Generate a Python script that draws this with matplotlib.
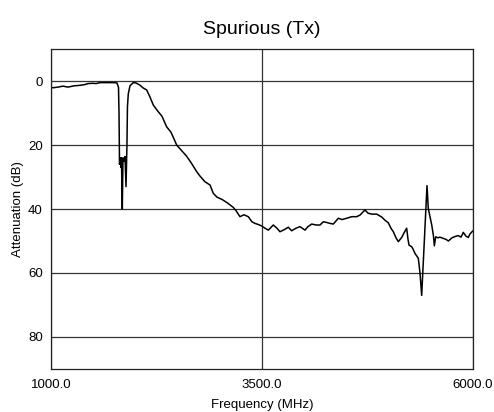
import matplotlib
matplotlib.use('Agg')
import matplotlib.pyplot as plt

plt.rcParams['font.family'] = ['Liberation Sans', 'DejaVu Sans']

# Tx spurious response: frequency (MHz) vs attenuation (dB)
freq_mhz = [
    1000, 1024, 1083, 1142, 1201, 1273, 1344, 1403, 1438, 1498, 1533, 1581,
    1675, 1746, 1782, 1800, 1806, 1812, 1823, 1829, 1835, 1845, 1853, 1865,
    1877, 1889, 1900, 1906, 1916, 1936, 1975, 2007, 2054, 2094, 2134, 2173,
    2212, 2268, 2315, 2370, 2422, 2489, 2540, 2607, 2659, 2726, 2765, 2825,
    2884, 2923, 2967, 3026, 3085, 3160, 3192, 3239, 3286, 3338, 3381, 3417,
    3452, 3496, 3535, 3575, 3634, 3677, 3713, 3760, 3812, 3851, 3903, 3950,
    4009, 4045, 4089, 4140, 4187, 4226, 4266, 4306, 4345, 4404, 4448, 4503,
    4563, 4622, 4661, 4720, 4756, 4800, 4859, 4918, 4957, 4996, 5028, 5056,
    5088, 5115, 5155, 5182, 5214, 5230, 5242, 5274, 5289, 5313, 5352, 5372,
    5392, 5423, 5455, 5470, 5511, 5532, 5542, 5558, 5585, 5609, 5648, 5680,
    5708, 5751, 5787, 5826, 5858, 5885, 5917, 5944, 5964, 5996,
]
atten_db = [
    2.0, 2.1, 1.9, 1.6, 1.9, 1.5, 1.35, 1.1, 0.8, 0.7, 0.8, 0.5,
    0.5, 0.5, 0.6, 2.0, 10.0, 26.0, 24.0, 27.0, 24.0, 40.0, 24.0, 25.0,
    23.6, 33.0, 20.0, 8.0, 4.0, 1.5, 0.5, 0.6, 1.3, 2.2, 2.8, 5.0,
    7.5, 9.5, 11.0, 14.3, 16.0, 20.0, 21.5, 23.5, 25.5, 28.3, 29.7, 31.5,
    32.5, 35.1, 36.3, 37.0, 38.0, 39.5, 40.5, 42.4, 41.8, 42.4, 44.0, 44.5,
    44.8, 45.3, 46.0, 46.6, 45.0, 46.0, 47.1, 46.5, 45.7, 46.8, 46.0, 45.5,
    46.6, 45.5, 44.7, 45.0, 45.0, 44.0, 44.2, 44.5, 44.7, 42.9, 43.3, 42.9,
    42.4, 42.4, 41.9, 40.3, 41.3, 41.6, 41.6, 42.5, 43.5, 44.3, 46.0, 47.1,
    49.0, 50.2, 48.9, 47.5, 46.0, 49.5, 51.3, 51.8, 52.5, 53.9, 55.4, 60.0,
    67.0, 50.2, 32.7, 39.8, 45.0, 48.5, 51.5, 48.7, 49.0, 48.8, 49.2, 49.5,
    50.0, 49.0, 48.6, 48.3, 48.8, 47.3, 48.5, 48.9, 47.8, 46.9,
]

x_ticks = [1000, 3500, 6000]
y_ticks = [0, 20, 40, 60, 80]

fig = plt.figure(figsize=(4.94, 4.12), dpi=100)
ax = fig.add_axes([0.1032, 0.1044, 0.8543, 0.7766])

ax.plot(freq_mhz, atten_db, color='black', lw=1.1)

ax.set_xlim(1000, 6000)
ax.set_ylim(90, -10)
ax.set_xticks(x_ticks)
ax.set_xticklabels(['%.1f' % v for v in x_ticks])
ax.set_yticks(y_ticks)
ax.tick_params(length=0, labelsize=9.5)
ax.tick_params(axis='x', pad=7)
ax.tick_params(axis='y', pad=6)
ax.grid(True, color='#333333', lw=0.9)
for sp in ax.spines.values():
    sp.set_color('#222222')
    sp.set_linewidth(0.9)

ax.set_xlabel('Frequency (MHz)', fontsize=9.5, labelpad=6)
ax.set_ylabel('Attenuation (dB)', fontsize=9.5, labelpad=3)
ax.set_title('Spurious (Tx)', fontsize=14, pad=11)

fig.savefig('out.png', dpi=100)
